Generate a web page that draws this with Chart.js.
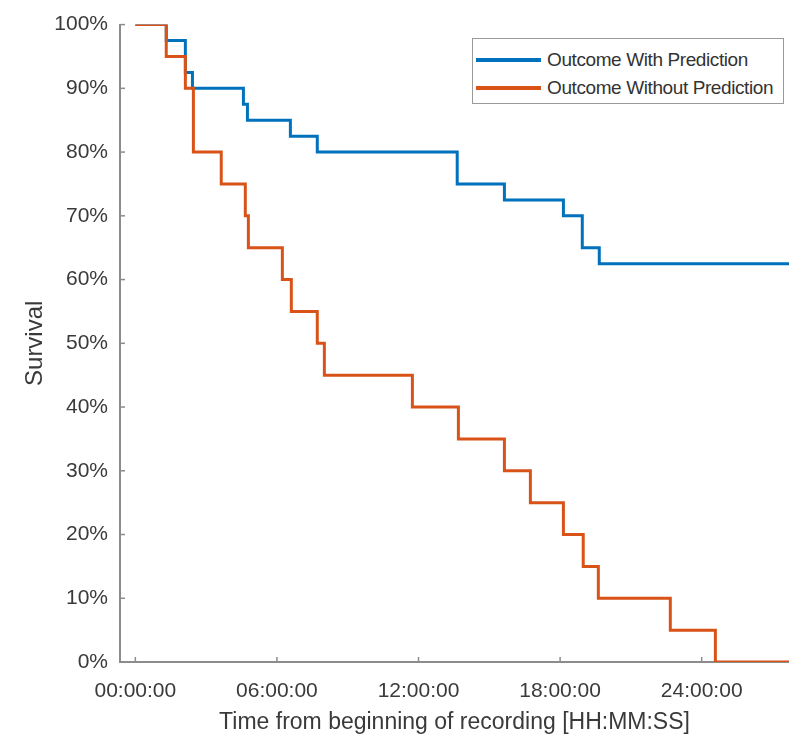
<!DOCTYPE html>
<html>
<head>
<meta charset="utf-8">
<script src="https://cdn.jsdelivr.net/npm/chart.js@4.4.1/dist/chart.umd.min.js"></script>
<style>
  body { margin: 0; background: #fff; }
  #wrap { position: relative; width: 789px; height: 743px; }
  #legend {
    position: absolute; left: 472px; top: 38px; width: 312px; height: 66px;
    border: 1px solid #9a9a9a; background: #fff; box-sizing: border-box;
    font-family: "Liberation Sans", Arial, sans-serif; font-size: 19px; color: #333;
  }
  #legend .row { position: absolute; left: 0; height: 28px; line-height: 28px; white-space: nowrap; }
  #legend .swatch { position: absolute; left: 3px; top: 12px; width: 65px; height: 4px; }
  #legend .label { position: absolute; left: 74px; top: 0; letter-spacing: -0.4px; }
</style>
</head>
<body>
<div id="wrap">
  <canvas id="kmChart"></canvas>
  <div id="legend">
    <div class="row" style="top:7px"><div class="swatch" style="background:#0072BD"></div><span class="label">Outcome With Prediction</span></div>
    <div class="row" style="top:35px"><div class="swatch" style="background:#D95319"></div><span class="label">Outcome Without Prediction</span></div>
  </div>
</div>
<script>
// x tick positions (hours since start of recording)
const tickHours = [0, 6, 12, 18, 24];

// Kaplan-Meier steps: time (hours) of each drop and survival (%) after it
const withPredTimes = [0, 1.31, 2.12, 2.42, 4.58, 4.75, 6.57, 7.71, 13.64, 15.64, 18.14, 18.94, 19.66, 27.7];
const withPredSurvival = [100, 97.5, 92.5, 90, 87.5, 85, 82.5, 80, 75, 72.5, 70, 65, 62.5, 62.5];

const withoutPredTimes = [0, 1.31, 2.12, 2.46, 3.64, 4.66, 4.79, 6.23, 6.61, 7.71, 8.01, 11.74, 13.69, 15.64, 16.74, 18.14, 18.98, 19.62, 22.67, 24.58, 27.7];
const withoutPredSurvival = [100, 95, 90, 80, 75, 70, 65, 60, 55, 50, 45, 40, 35, 30, 25, 20, 15, 10, 5, 0, 0];

const axisGray = '#8c8c8c';
const textGray = '#3a3a3a';
const fontFamily = '"Liberation Sans", Arial, sans-serif';

function toPoints(times, values) {
    return times.map((t, i) => ({ x: t, y: values[i] }));
}

function fmtHours(h) {
    return String(h).padStart(2, '0') + ':00:00';
}

// MATLAB style ticks pointing into the plot
const innerTicks = {
    id: 'innerTicks',
    afterDraw(chart) {
        const { ctx, chartArea, scales } = chart;
        ctx.save();
        ctx.strokeStyle = axisGray;
        ctx.lineWidth = 1.5;
        scales.y.ticks.forEach(t => {
            const py = scales.y.getPixelForValue(t.value);
            ctx.beginPath();
            ctx.moveTo(chartArea.left, py);
            ctx.lineTo(chartArea.left + 5, py);
            ctx.stroke();
        });
        scales.x.ticks.forEach(t => {
            const px = scales.x.getPixelForValue(t.value);
            ctx.beginPath();
            ctx.moveTo(px, chartArea.bottom);
            ctx.lineTo(px, chartArea.bottom - 5);
            ctx.stroke();
        });
        ctx.restore();
    }
};

const ctx = document.getElementById('kmChart');
new Chart(ctx, {
    type: 'line',
    data: {
        datasets: [{
            label: 'Outcome With Prediction',
            data: toPoints(withPredTimes, withPredSurvival),
            borderColor: '#0072BD',
            borderWidth: 3,
            stepped: 'before',
            pointRadius: 0,
            order: 1
        }, {
            label: 'Outcome Without Prediction',
            data: toPoints(withoutPredTimes, withoutPredSurvival),
            borderColor: '#D95319',
            borderWidth: 3,
            stepped: 'before',
            pointRadius: 0,
            order: 0
        }]
    },
    options: {
        responsive: true,
        maintainAspectRatio: false,
        animation: false,
        layout: { padding: { top: 19, right: 0, left: 0, bottom: 0 } },
        plugins: {
            legend: { display: false },
            tooltip: { enabled: false }
        },
        scales: {
            x: {
                type: 'linear',
                min: -0.65,
                max: 27.7,
                afterBuildTicks: scale => { scale.ticks = tickHours.map(v => ({ value: v })); },
                afterFit: scale => { scale.height = 81; },
                grid: { drawOnChartArea: false, drawTicks: false },
                border: { color: axisGray, width: 2 },
                ticks: {
                    padding: 17,
                    color: textGray,
                    font: { family: fontFamily, size: 21 },
                    maxRotation: 0,
                    callback: v => fmtHours(v)
                },
                title: {
                    display: true,
                    text: 'Time from beginning of recording [HH:MM:SS]',
                    color: textGray,
                    font: { family: fontFamily, size: 23 },
                    padding: { top: 0, bottom: 7 }
                }
            },
            y: {
                min: 0,
                max: 100,
                afterFit: scale => { scale.width = 120; },
                grid: { drawOnChartArea: false, drawTicks: false },
                border: { color: axisGray, width: 2 },
                ticks: {
                    stepSize: 10,
                    padding: 12,
                    color: textGray,
                    font: { family: fontFamily, size: 21 },
                    callback: v => v + '%'
                },
                title: {
                    display: true,
                    text: 'Survival',
                    color: textGray,
                    font: { family: fontFamily, size: 24 },
                    padding: { top: 21, bottom: 0 }
                }
            }
        }
    },
    plugins: [innerTicks]
});
</script>
</body>
</html>
